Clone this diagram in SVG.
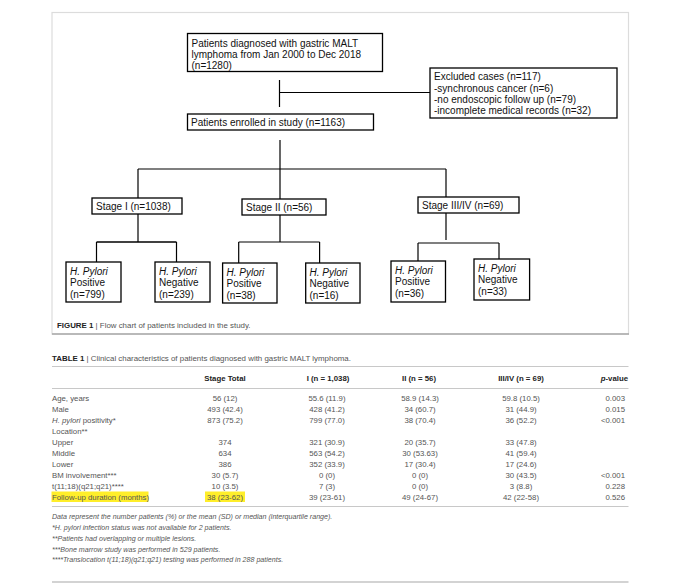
<svg xmlns="http://www.w3.org/2000/svg" width="680" height="587" viewBox="0 0 680 587">
<style>
.bx{fill:#fff;stroke:#000;stroke-width:1.3}
.fc{font-family:"Liberation Sans",Arial,sans-serif;font-size:10px;fill:#111}
.it{font-style:italic}
.cn line{stroke:#000;stroke-width:1.2}
.cap{font-family:"Liberation Sans",Arial,sans-serif;font-size:7.9px;fill:#555}
.b{font-weight:bold;fill:#222}
.tb{font-family:"Liberation Sans",Arial,sans-serif;font-size:7.8px;fill:#555}
.th{font-family:"Liberation Sans",Arial,sans-serif;font-size:7.8px;fill:#222;font-weight:bold}
.fn{font-family:"Liberation Sans",Arial,sans-serif;font-size:7.1px;fill:#555;font-style:italic}
.c{text-anchor:middle}
.r{text-anchor:end}
.rule{stroke:#c8c8c8;stroke-width:1}
</style>
<rect x="0" y="0" width="680" height="587" fill="#fff"/>
<!-- figure frame -->
<rect x="52" y="12.5" width="576.5" height="321.5" fill="#fff" stroke="#dcdcdc" stroke-width="1.2"/>
<line x1="52" y1="334" x2="629" y2="334" stroke="#a8a8a8" stroke-width="1.6"/>

<g class="cn" id="connectors">
<line x1="279.5" y1="80" x2="279.5" y2="107"/>
<line x1="279.5" y1="92.5" x2="430" y2="92.5"/>
<line x1="280" y1="140" x2="280" y2="169"/>
<line x1="138" y1="169" x2="446" y2="169"/>
<line x1="138" y1="169" x2="138" y2="198"/>
<line x1="280" y1="169" x2="280" y2="199"/>
<line x1="446" y1="169" x2="446" y2="197"/>
<line x1="138" y1="214" x2="138" y2="242"/>
<line x1="96.5" y1="242" x2="176.5" y2="242" style="stroke-width:1.6"/>
<line x1="96.5" y1="242" x2="96.5" y2="262"/>
<line x1="176.5" y1="242" x2="176.5" y2="262"/>
<line x1="280" y1="215" x2="280" y2="242"/>
<line x1="238.7" y1="242" x2="319.6" y2="242"/>
<line x1="238.7" y1="242" x2="238.7" y2="263"/>
<line x1="319.6" y1="242" x2="319.6" y2="263"/>
<line x1="446" y1="213" x2="446" y2="240"/>
<line x1="418" y1="243" x2="499" y2="243"/>
<line x1="418" y1="243" x2="418" y2="261"/>
<line x1="499" y1="243" x2="499" y2="259"/>
</g>

<g id="diagnosed">
<rect class="bx" x="187.5" y="33.5" width="195" height="38"/>
<text class="fc" x="191.5" y="46.5">Patients diagnosed with gastric MALT</text>
<text class="fc" x="191.5" y="57.5">lymphoma from Jan 2000 to Dec 2018</text>
<text class="fc" x="191.5" y="68.5">(n=1280)</text>
</g>
<g id="excluded">
<rect class="bx" x="430" y="68" width="187" height="50"/>
<text class="fc" x="434" y="80">Excluded cases (n=117)</text>
<text class="fc" x="434" y="91.5">-synchronous cancer (n=6)</text>
<text class="fc" x="434" y="102.5">-no endoscopic follow up (n=79)</text>
<text class="fc" x="434" y="113.5">-incomplete medical records (n=32)</text>
</g>
<g id="enrolled">
<rect class="bx" x="187.5" y="114" width="186" height="16"/>
<text class="fc" x="191" y="125.8">Patients enrolled in study (n=1163)</text>
</g>
<g id="stage1">
<rect class="bx" x="92" y="198" width="90" height="16"/>
<text class="fc" x="96" y="209.8">Stage I (n=1038)</text>
</g>
<g id="stage2">
<rect class="bx" x="242" y="199" width="84" height="16"/>
<text class="fc" x="246" y="210.8">Stage II (n=56)</text>
</g>
<g id="stage34">
<rect class="bx" x="418" y="197" width="101" height="16"/>
<text class="fc" x="422" y="208.8">Stage III/IV (n=69)</text>
</g>
<g id="s1pos">
<rect class="bx" x="66" y="262" width="55" height="40"/>
<text class="fc it" x="70" y="274.5">H. Pylori</text>
<text class="fc" x="70" y="286">Positive</text>
<text class="fc" x="70" y="297.5">(n=799)</text>
</g>
<g id="s1neg">
<rect class="bx" x="155" y="262" width="55" height="40"/>
<text class="fc it" x="159" y="274.5">H. Pylori</text>
<text class="fc" x="159" y="286">Negative</text>
<text class="fc" x="159" y="297.5">(n=239)</text>
</g>
<g id="s2pos">
<rect class="bx" x="222.6" y="263" width="54.4" height="40"/>
<text class="fc it" x="226.5" y="275.5">H. Pylori</text>
<text class="fc" x="226.5" y="287">Positive</text>
<text class="fc" x="226.5" y="298.5">(n=38)</text>
</g>
<g id="s2neg">
<rect class="bx" x="305.7" y="263" width="54.3" height="40"/>
<text class="fc it" x="309.5" y="275.5">H. Pylori</text>
<text class="fc" x="309.5" y="287">Negative</text>
<text class="fc" x="309.5" y="298.5">(n=16)</text>
</g>
<g id="s3pos">
<rect class="bx" x="391" y="261" width="54.5" height="41"/>
<text class="fc it" x="395" y="273.5">H. Pylori</text>
<text class="fc" x="395" y="285">Positive</text>
<text class="fc" x="395" y="296.5">(n=36)</text>
</g>
<g id="s3neg">
<rect class="bx" x="474" y="259" width="55.6" height="41"/>
<text class="fc it" x="478" y="271.5">H. Pylori</text>
<text class="fc" x="478" y="283">Negative</text>
<text class="fc" x="478" y="294.5">(n=33)</text>
</g>

<text class="cap" x="57" y="328"><tspan class="b">FIGURE 1</tspan> | Flow chart of patients included in the study.</text>

<!-- table -->
<text class="cap" x="52" y="361"><tspan class="b">TABLE 1</tspan> | Clinical characteristics of patients diagnosed with gastric MALT lymphoma.</text>
<line class="rule" x1="52" y1="366.5" x2="628.5" y2="366.5"/>
<g class="th">
<text class="c" x="225" y="381">Stage Total</text>
<text class="c" x="328" y="381">I (n = 1,038)</text>
<text class="c" x="419" y="381">II (n = 56)</text>
<text class="c" x="521" y="381">III/IV (n = 69)</text>
<text class="r" x="628" y="381"><tspan font-style="italic">p</tspan>-value</text>
</g>
<line class="rule" x1="52" y1="388.5" x2="628.5" y2="388.5"/>
<rect x="51.5" y="491.5" width="97" height="10.5" fill="#ffee2a"/>
<rect x="205" y="491.5" width="40" height="10.5" fill="#ffee2a"/>
<g class="tb">
<text x="52" y="401">Age, years</text>
<text x="52" y="412">Male</text>
<text x="52" y="423"><tspan font-style="italic">H. pylori</tspan> positivity*</text>
<text x="52" y="434">Location**</text>
<text x="52" y="445">Upper</text>
<text x="52" y="456">Middle</text>
<text x="52" y="467">Lower</text>
<text x="52" y="478">BM involvement***</text>
<text x="52" y="489">t(11;18)(q21;q21)****</text>
<text x="52" y="500">Follow-up duration (months)</text>
</g>
<g class="tb c">
<text x="225" y="401">56 (12)</text>
<text x="225" y="412">493 (42.4)</text>
<text x="225" y="423">873 (75.2)</text>
<text x="225" y="445">374</text>
<text x="225" y="456">634</text>
<text x="225" y="467">386</text>
<text x="225" y="478">30 (5.7)</text>
<text x="225" y="489">10 (3.5)</text>
<text x="225" y="500">38 (23-62)</text>
<text x="327" y="401">55.6 (11.9)</text>
<text x="327" y="412">428 (41.2)</text>
<text x="327" y="423">799 (77.0)</text>
<text x="327" y="445">321 (30.9)</text>
<text x="327" y="456">563 (54.2)</text>
<text x="327" y="467">352 (33.9)</text>
<text x="327" y="478">0 (0)</text>
<text x="327" y="489">7 (3)</text>
<text x="327" y="500">39 (23-61)</text>
<text x="420" y="401">58.9 (14.3)</text>
<text x="420" y="412">34 (60.7)</text>
<text x="420" y="423">38 (70.4)</text>
<text x="420" y="445">20 (35.7)</text>
<text x="420" y="456">30 (53.63)</text>
<text x="420" y="467">17 (30.4)</text>
<text x="420" y="478">0 (0)</text>
<text x="420" y="489">0 (0)</text>
<text x="420" y="500">49 (24-67)</text>
<text x="521" y="401">59.8 (10.5)</text>
<text x="521" y="412">31 (44.9)</text>
<text x="521" y="423">36 (52.2)</text>
<text x="521" y="445">33 (47.8)</text>
<text x="521" y="456">41 (59.4)</text>
<text x="521" y="467">17 (24.6)</text>
<text x="521" y="478">30 (43.5)</text>
<text x="521" y="489">3 (8.8)</text>
<text x="521" y="500">42 (22-58)</text>
</g>
<g class="tb r">
<text x="625" y="401">0.003</text>
<text x="625" y="412">0.015</text>
<text x="625" y="423">&lt;0.001</text>
<text x="625" y="478">&lt;0.001</text>
<text x="625" y="489">0.228</text>
<text x="625" y="500">0.526</text>
</g>
<line class="rule" x1="52" y1="506.5" x2="628.5" y2="506.5"/>
<g class="fn">
<text x="52" y="519">Data represent the number patients (%) or the mean (SD) or median (interquartile range).</text>
<text x="52" y="530">*H. pylori infection status was not available for 2 patients.</text>
<text x="52" y="541">**Patients had overlapping or multiple lesions.</text>
<text x="52" y="551.5">***Bone marrow study was performed in 529 patients.</text>
<text x="52" y="562">****Translocation t(11;18)(q21;q21) testing was performed in 288 patients.</text>
</g>
<line x1="52" y1="582" x2="628.5" y2="582" stroke="#c4c4c4" stroke-width="1.6"/>
</svg>
